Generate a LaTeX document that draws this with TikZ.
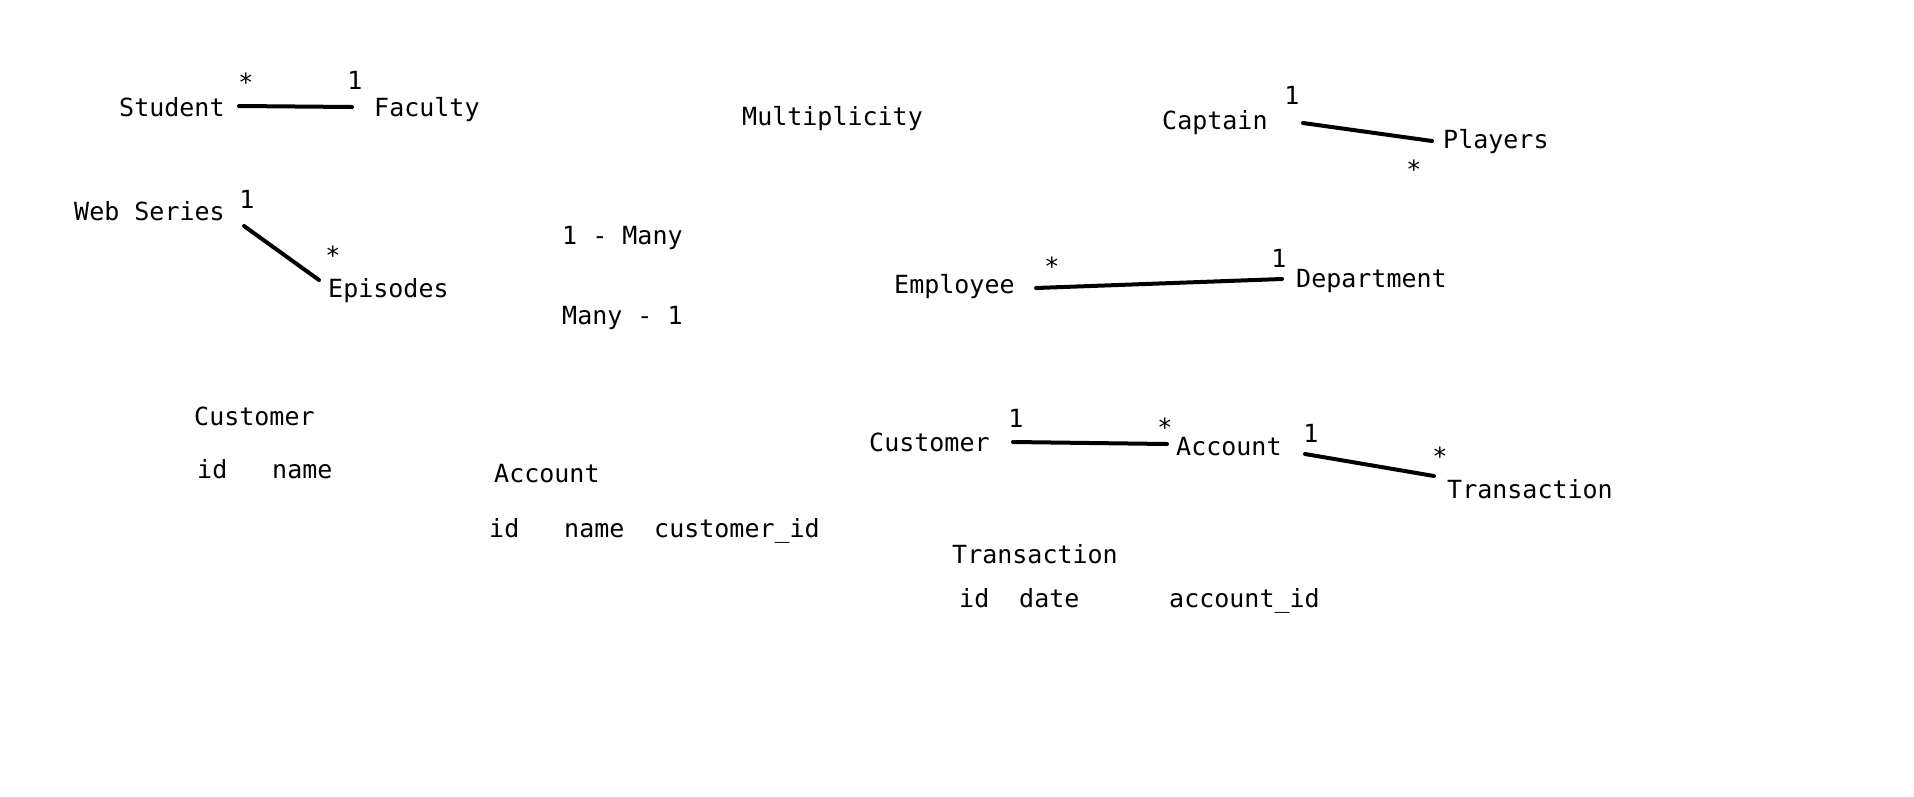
\documentclass[tikz,border=0pt]{standalone}
\usepackage{fontspec}
\setmainfont{DejaVu Sans Mono}
\begin{document}
\begin{tikzpicture}[x=1pt,y=-1pt,
  lbl/.style={anchor=base west,inner sep=0pt,font=\fontsize{25}{30}\selectfont},
  mult/.style={anchor=base,inner sep=0pt,font=\fontsize{25}{30}\selectfont},
  link/.style={line width=4pt,line cap=round}]
\useasboundingbox[fill=white] (0,0) rectangle (1914,796);
% Student - Faculty
\node[lbl] (student) at (119,116) {Student};
\node[lbl] (faculty) at (374,116) {Faculty};
\node[mult] (m1) at (246,91) {*};
\node[mult] (m2) at (355,89) {1};
\coordinate (sfA) at (239,106);
\coordinate (sfB) at (352,107);
\draw[link] (sfA) -- (sfB);
% Web Series - Episodes
\node[lbl] (webseries) at (74,220) {Web Series};
\node[lbl] (episodes) at (328,297) {Episodes};
\node[mult] (m3) at (247,208) {1};
\node[mult] (m4) at (333,264) {*};
\coordinate (wsA) at (244,226);
\coordinate (wsB) at (319,280);
\draw[link] (wsA) -- (wsB);
% headings
\node[lbl] (multiplicity) at (742,125) {Multiplicity};
\node[lbl] (onemany) at (562,244) {1 - Many};
\node[lbl] (manyone) at (562,324) {Many - 1};
% Captain - Players
\node[lbl] (captain) at (1162,129) {Captain};
\node[lbl] (players) at (1443,148) {Players};
\node[mult] (m5) at (1292,104) {1};
\node[mult] (m6) at (1414,178) {*};
\coordinate (cpA) at (1303,123);
\coordinate (cpB) at (1432,141);
\draw[link] (cpA) -- (cpB);
% Employee - Department
\node[lbl] (employee) at (894,293) {Employee};
\node[lbl] (department) at (1296,287) {Department};
\node[mult] (m7) at (1052,275) {*};
\node[mult] (m8) at (1279,267) {1};
\coordinate (edA) at (1036,288);
\coordinate (edB) at (1282,279);
\draw[link] (edA) -- (edB);
% tables left
\node[lbl] (custL) at (194,425) {Customer};
\node[lbl] (custid) at (197,478) {id};
\node[lbl] (custname) at (272,478) {name};
\node[lbl] (acctL) at (494,482) {Account};
\node[lbl] (acctid) at (489,537) {id};
\node[lbl] (acctname) at (564,537) {name};
\node[lbl] (acctcust) at (654,537) {customer\_id};
% Customer - Account - Transaction
\node[lbl] (custR) at (869,451) {Customer};
\node[lbl] (acctR) at (1176,455) {Account};
\node[lbl] (transR) at (1447,498) {Transaction};
\node[mult] (m9) at (1016,427) {1};
\node[mult] (m10) at (1165,436) {*};
\node[mult] (m11) at (1311,442) {1};
\node[mult] (m12) at (1440,465) {*};
\coordinate (caA) at (1013,442);
\coordinate (caB) at (1167,444);
\draw[link] (caA) -- (caB);
\coordinate (atA) at (1305,454);
\coordinate (atB) at (1434,476);
\draw[link] (atA) -- (atB);
% Transaction table
\node[lbl] (transT) at (952,563) {Transaction};
\node[lbl] (transid) at (959,607) {id};
\node[lbl] (transdate) at (1019,607) {date};
\node[lbl] (transacct) at (1169,607) {account\_id};
\end{tikzpicture}
\end{document}
